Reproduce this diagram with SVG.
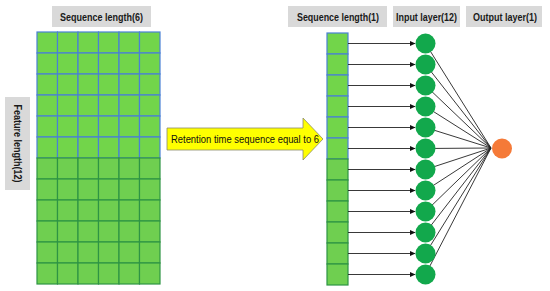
<svg xmlns="http://www.w3.org/2000/svg" width="550" height="291" viewBox="0 0 550 291">
<style>
.lbl{fill:#D9D9D9}
.lt{font-family:"Liberation Sans",Arial,sans-serif;font-weight:bold;font-size:10.5px;fill:#1a1a1a;text-anchor:middle}
.cu{fill:#72D54A;stroke:#4A80D6;stroke-width:1.2}
.cl{fill:#6FCF50;stroke:#2E9444;stroke-width:1.2}
.in{fill:#12A84C}
.c{stroke:#222;stroke-width:0.9;fill:none}
</style>
<defs>
<marker id="ah" markerWidth="6" markerHeight="6" refX="5" refY="3" orient="auto" markerUnits="userSpaceOnUse">
<path d="M0,0.5 L5.5,3 L0,5.5 Z" fill="#111"/>
</marker>
</defs>
<rect width="550" height="291" fill="#fff"/>

<g id="label-seq6"><rect class="lbl" x="52" y="6" width="99" height="21"/><text class="lt" x="101.5" y="20.5" textLength="83" lengthAdjust="spacingAndGlyphs">Sequence length(6)</text></g>
<g id="label-feature"><rect class="lbl" x="5" y="97" width="25" height="93"/><text class="lt" transform="translate(13.5,143.5) rotate(90)" x="0" y="0" textLength="78" lengthAdjust="spacingAndGlyphs">Feature length(12)</text></g>
<g id="label-seq1"><rect class="lbl" x="288" y="6" width="99" height="21"/><text class="lt" x="338" y="20.5" textLength="82" lengthAdjust="spacingAndGlyphs">Sequence length(1)</text></g>
<g id="label-input"><rect class="lbl" x="393" y="6" width="67" height="21"/><text class="lt" x="426.5" y="20.5" textLength="61" lengthAdjust="spacingAndGlyphs">Input layer(12)</text></g>
<g id="label-output"><rect class="lbl" x="466" y="6" width="76" height="21"/><text class="lt" x="505" y="20.5" textLength="64" lengthAdjust="spacingAndGlyphs">Output layer(1)</text></g>

<g id="grid-6x12">
<g class="cu">
<rect x="37" y="32" width="20.5" height="21"/><rect x="57.5" y="32" width="20.5" height="21"/><rect x="78" y="32" width="20.5" height="21"/><rect x="98.5" y="32" width="20.5" height="21"/><rect x="119" y="32" width="20.5" height="21"/><rect x="139.5" y="32" width="20.5" height="21"/>
<rect x="37" y="53" width="20.5" height="21"/><rect x="57.5" y="53" width="20.5" height="21"/><rect x="78" y="53" width="20.5" height="21"/><rect x="98.5" y="53" width="20.5" height="21"/><rect x="119" y="53" width="20.5" height="21"/><rect x="139.5" y="53" width="20.5" height="21"/>
<rect x="37" y="74" width="20.5" height="21"/><rect x="57.5" y="74" width="20.5" height="21"/><rect x="78" y="74" width="20.5" height="21"/><rect x="98.5" y="74" width="20.5" height="21"/><rect x="119" y="74" width="20.5" height="21"/><rect x="139.5" y="74" width="20.5" height="21"/>
<rect x="37" y="95" width="20.5" height="21"/><rect x="57.5" y="95" width="20.5" height="21"/><rect x="78" y="95" width="20.5" height="21"/><rect x="98.5" y="95" width="20.5" height="21"/><rect x="119" y="95" width="20.5" height="21"/><rect x="139.5" y="95" width="20.5" height="21"/>
<rect x="37" y="116" width="20.5" height="21"/><rect x="57.5" y="116" width="20.5" height="21"/><rect x="78" y="116" width="20.5" height="21"/><rect x="98.5" y="116" width="20.5" height="21"/><rect x="119" y="116" width="20.5" height="21"/><rect x="139.5" y="116" width="20.5" height="21"/>
<rect x="37" y="137" width="20.5" height="21"/><rect x="57.5" y="137" width="20.5" height="21"/><rect x="78" y="137" width="20.5" height="21"/><rect x="98.5" y="137" width="20.5" height="21"/><rect x="119" y="137" width="20.5" height="21"/><rect x="139.5" y="137" width="20.5" height="21"/>
</g>
<g class="cl">
<rect x="37" y="158" width="20.5" height="21"/><rect x="57.5" y="158" width="20.5" height="21"/><rect x="78" y="158" width="20.5" height="21"/><rect x="98.5" y="158" width="20.5" height="21"/><rect x="119" y="158" width="20.5" height="21"/><rect x="139.5" y="158" width="20.5" height="21"/>
<rect x="37" y="179" width="20.5" height="21"/><rect x="57.5" y="179" width="20.5" height="21"/><rect x="78" y="179" width="20.5" height="21"/><rect x="98.5" y="179" width="20.5" height="21"/><rect x="119" y="179" width="20.5" height="21"/><rect x="139.5" y="179" width="20.5" height="21"/>
<rect x="37" y="200" width="20.5" height="21"/><rect x="57.5" y="200" width="20.5" height="21"/><rect x="78" y="200" width="20.5" height="21"/><rect x="98.5" y="200" width="20.5" height="21"/><rect x="119" y="200" width="20.5" height="21"/><rect x="139.5" y="200" width="20.5" height="21"/>
<rect x="37" y="221" width="20.5" height="21"/><rect x="57.5" y="221" width="20.5" height="21"/><rect x="78" y="221" width="20.5" height="21"/><rect x="98.5" y="221" width="20.5" height="21"/><rect x="119" y="221" width="20.5" height="21"/><rect x="139.5" y="221" width="20.5" height="21"/>
<rect x="37" y="242" width="20.5" height="21"/><rect x="57.5" y="242" width="20.5" height="21"/><rect x="78" y="242" width="20.5" height="21"/><rect x="98.5" y="242" width="20.5" height="21"/><rect x="119" y="242" width="20.5" height="21"/><rect x="139.5" y="242" width="20.5" height="21"/>
<rect x="37" y="263" width="20.5" height="21"/><rect x="57.5" y="263" width="20.5" height="21"/><rect x="78" y="263" width="20.5" height="21"/><rect x="98.5" y="263" width="20.5" height="21"/><rect x="119" y="263" width="20.5" height="21"/><rect x="139.5" y="263" width="20.5" height="21"/>
</g>
</g>

<g id="retention-arrow">
<polygon points="167,128 303,128 303,118 323,139 303,160 303,150 167,150" fill="#FFFF00" stroke="#8C8C6A" stroke-width="0.8"/>
<text x="171" y="143" font-family="'Liberation Sans',Arial,sans-serif" font-size="10.5px" fill="#111" textLength="148" lengthAdjust="spacingAndGlyphs">Retention time sequence equal to 6</text>
</g>

<g id="column-1x12">
<g class="cu">
<rect x="327" y="33" width="21" height="21"/><rect x="327" y="54" width="21" height="21"/><rect x="327" y="75" width="21" height="21"/><rect x="327" y="96" width="21" height="21"/><rect x="327" y="117" width="21" height="21"/><rect x="327" y="138" width="21" height="21"/>
</g>
<g class="cl">
<rect x="327" y="159" width="21" height="21"/><rect x="327" y="180" width="21" height="21"/><rect x="327" y="201" width="21" height="21"/><rect x="327" y="222" width="21" height="21"/><rect x="327" y="243" width="21" height="21"/><rect x="327" y="264" width="21" height="21"/>
</g>
</g>

<g id="connectors">
<g class="c" marker-end="url(#ah)">
<line x1="348" y1="43.5" x2="415" y2="43.5"/><line x1="348" y1="64.5" x2="415" y2="64.5"/><line x1="348" y1="85.5" x2="415" y2="85.5"/><line x1="348" y1="106.5" x2="415" y2="106.5"/><line x1="348" y1="127.5" x2="415" y2="127.5"/><line x1="348" y1="148.5" x2="415" y2="148.5"/>
<line x1="348" y1="169.5" x2="415" y2="169.5"/><line x1="348" y1="190.5" x2="415" y2="190.5"/><line x1="348" y1="211.5" x2="415" y2="211.5"/><line x1="348" y1="232.5" x2="415" y2="232.5"/><line x1="348" y1="253.5" x2="415" y2="253.5"/><line x1="348" y1="274.5" x2="415" y2="274.5"/>
</g>
<g class="c">
<line x1="425.5" y1="43.5" x2="491" y2="148"/><line x1="425.5" y1="64.5" x2="491" y2="148"/><line x1="425.5" y1="85.5" x2="491" y2="148"/><line x1="425.5" y1="106.5" x2="491" y2="148"/><line x1="425.5" y1="127.5" x2="491" y2="148"/><line x1="425.5" y1="148.5" x2="491" y2="148"/>
<line x1="425.5" y1="169.5" x2="491" y2="148"/><line x1="425.5" y1="190.5" x2="491" y2="148"/><line x1="425.5" y1="211.5" x2="491" y2="148"/><line x1="425.5" y1="232.5" x2="491" y2="148"/><line x1="425.5" y1="253.5" x2="491" y2="148"/><line x1="425.5" y1="274.5" x2="491" y2="148"/>
</g>
</g>

<g id="input-1"><circle class="in" cx="425.5" cy="43.5" r="10"/></g>
<g id="input-2"><circle class="in" cx="425.5" cy="64.5" r="10"/></g>
<g id="input-3"><circle class="in" cx="425.5" cy="85.5" r="10"/></g>
<g id="input-4"><circle class="in" cx="425.5" cy="106.5" r="10"/></g>
<g id="input-5"><circle class="in" cx="425.5" cy="127.5" r="10"/></g>
<g id="input-6"><circle class="in" cx="425.5" cy="148.5" r="10"/></g>
<g id="input-7"><circle class="in" cx="425.5" cy="169.5" r="10"/></g>
<g id="input-8"><circle class="in" cx="425.5" cy="190.5" r="10"/></g>
<g id="input-9"><circle class="in" cx="425.5" cy="211.5" r="10"/></g>
<g id="input-10"><circle class="in" cx="425.5" cy="232.5" r="10"/></g>
<g id="input-11"><circle class="in" cx="425.5" cy="253.5" r="10"/></g>
<g id="input-12"><circle class="in" cx="425.5" cy="274.5" r="10"/></g>

<g id="output-1"><circle cx="502" cy="148.5" r="10" fill="#F57A38"/></g>
</svg>
